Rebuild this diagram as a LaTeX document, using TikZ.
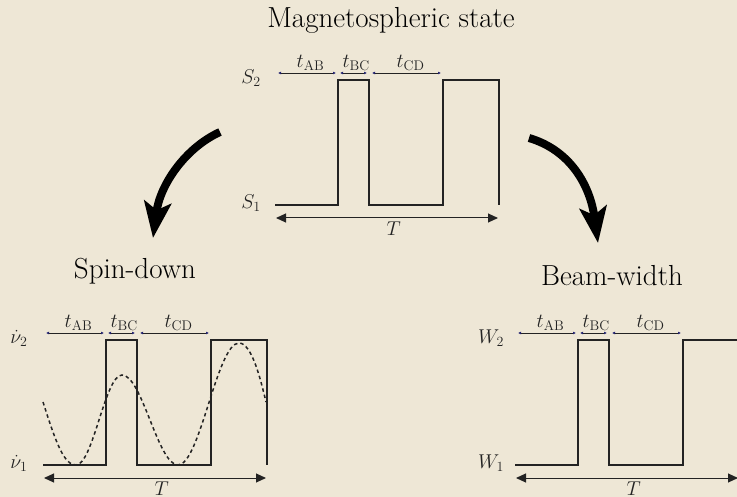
\RequirePackage{fix-cm}
\documentclass[tikz,border=0pt]{standalone}
\usepackage{amsmath}
\usetikzlibrary{arrows.meta,positioning,calc}
\definecolor{paper}{RGB}{238,231,214}
\definecolor{ink}{RGB}{35,35,35}
\definecolor{tick}{RGB}{30,30,110}

\begin{document}
\begin{tikzpicture}[x=1pt, y=-1pt,
  wave/.style={draw=ink, line width=1.4pt},
  per/.style={draw=ink, line width=1pt, {Triangle[length=10pt,width=9pt]}-{Triangle[length=10pt,width=9pt]}},
  dt/.style={draw=ink, line width=0.5pt, {Latex[length=3pt,width=2.8pt,color=tick]}-{Latex[length=3pt,width=2.8pt,color=tick]}},
  ttl/.style={font=\fontsize{29}{32}\selectfont, text=black},
  lbl/.style={font=\fontsize{20}{22}\selectfont, text=ink, inner sep=1pt},
  big/.style={line width=8pt, -{Stealth[length=36pt,width=27pt,inset=8pt]}}]
\fill[paper] (0,0) rectangle (737,497);
\clip (0,0) rectangle (737,497);

% titles
\node[ttl] (mag) at (391,20) {Magnetospheric state};
\node[ttl] (spin) at (135,271) {Spin-down};
\node[ttl] (beam) at (612,276) {Beam-width};

% the three step signals
\foreach \nm/\px/\py/\hi/\lo in {m/275/80/S_2/S_1, s/43/340/\dot{\nu}_2/\dot{\nu}_1, b/515/340/W_2/W_1} {
  \begin{scope}[shift={(\px,\py)}]
    \draw[wave] (0,125) -| (63,0) -| (94,125) -| (168,0) -| (224,125);
    \node[lbl] (\nm-hi) at (-24,-2) {$\hi$};
    \node[lbl] (\nm-lo) at (-24,123) {$\lo$};
    \coordinate (\nm-a0) at (3,-7);  \coordinate (\nm-a1) at (61,-7);
    \coordinate (\nm-b0) at (65,-7); \coordinate (\nm-b1) at (92,-7);
    \coordinate (\nm-c0) at (97,-7); \coordinate (\nm-c1) at (166,-7);
    \coordinate (\nm-t0) at (1,138); \coordinate (\nm-t1) at (223,138);
    \draw[dt] (\nm-a0) -- node[lbl, above=1pt, pos=.56] {$t_{\mathrm{AB}}$} (\nm-a1);
    \draw[dt] (\nm-b0) -- node[lbl, above=1pt, pos=.6] {$t_{\mathrm{BC}}$} (\nm-b1);
    \draw[dt] (\nm-c0) -- node[lbl, above=1pt, pos=.56] {$t_{\mathrm{CD}}$} (\nm-c1);
    \draw[per] (\nm-t0) -- node[lbl, below=2pt, pos=.53] {$T$} (\nm-t1);
  \end{scope}
}

% spin-down frequency
\draw[ink, line width=1.5pt, dash pattern=on 3.5pt off 3pt]
  (43,402) .. controls (56,443) and (64,465) .. (76,465)
  .. controls (93,465) and (105,375) .. (122,375)
  .. controls (142,375) and (158,465) .. (178,465)
  .. controls (200,465) and (217,343) .. (239,343)
  .. controls (252,343) and (261,381) .. (266,402);

% big arrows
\coordinate (l0) at (220,132); \coordinate (l1) at (153,238);
\coordinate (r0) at (529,138); \coordinate (r1) at (598,243);
\draw[big] (l0) .. controls (185,148) and (160,185) .. (l1);
\draw[big] (r0) .. controls (570,150) and (590,185) .. (r1);
\end{tikzpicture}
\end{document}
